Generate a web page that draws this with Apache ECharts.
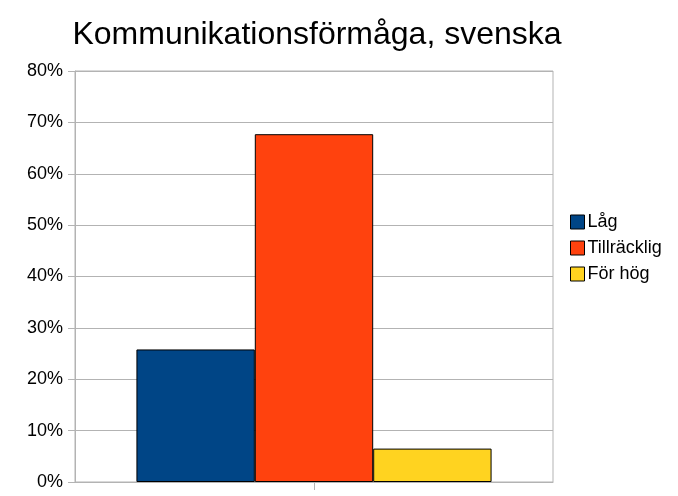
<!DOCTYPE html>
<html><head><meta charset="utf-8">
<script src="https://cdn.jsdelivr.net/npm/echarts@6/dist/echarts.min.js"></script>
<style>html,body{margin:0;padding:0;background:#fff}#c{width:678px;height:496px}</style>
</head><body><div id="c"></div>
<script>
const categories = [''];
const seriesNames = ['Låg', 'Tillräcklig', 'För hög'];
const seriesValues = [[25.8], [67.7], [6.5]];
const colors = ['#004586', '#ff420e', '#ffd320'];
const yTicks = [0, 10, 20, 30, 40, 50, 60, 70, 80];

const chart = echarts.init(document.getElementById('c'));
chart.setOption({
  animation: false,
  textStyle: { fontFamily: 'Liberation Sans' },
  title: {
    text: 'Kommunikationsförmåga, svenska',
    left: 312, top: 14, textAlign: 'center',
    textStyle: { fontFamily: 'Liberation Sans', fontSize: 32, fontWeight: 'normal', color: '#000' }
  },
  grid: { left: 75, right: 125, top: 71, bottom: 14, show: true, borderColor: '#b3b3b3', borderWidth: 1 },
  legend: {
    orient: 'vertical', left: 565, top: 208, itemWidth: 14, itemHeight: 14, itemGap: 8,
    textStyle: { fontFamily: 'Liberation Sans', fontSize: 18, color: '#000', padding: [0, 0, 0, -2] },
    data: seriesNames.map((n, i) => ({ name: n, icon: 'rect', itemStyle: { color: colors[i], borderColor: '#000', borderWidth: 1 } }))
  },
  xAxis: {
    type: 'category', data: categories,
    axisLine: { lineStyle: { color: '#b3b3b3' } },
    axisTick: { show: true, length: 8, alignWithLabel: true, lineStyle: { color: '#b3b3b3' } },
    axisLabel: { show: false }
  },
  yAxis: {
    type: 'value', min: yTicks[0], max: yTicks[yTicks.length - 1], interval: 10,
    axisLine: { show: true, lineStyle: { color: '#b3b3b3' } },
    axisTick: { show: true, length: 7, lineStyle: { color: '#b3b3b3' } },
    splitLine: { lineStyle: { color: '#b3b3b3' } },
    axisLabel: { formatter: '{value}%', fontSize: 18, color: '#000', margin: 12, fontFamily: 'Liberation Sans' }
  },
  series: seriesNames.map((n, i) => ({
    name: n, type: 'bar', data: seriesValues[i],
    barGap: '0%', barCategoryGap: '25.7%',
    itemStyle: { color: colors[i], borderColor: '#000', borderWidth: 1 }
  }))
});
</script></body></html>
